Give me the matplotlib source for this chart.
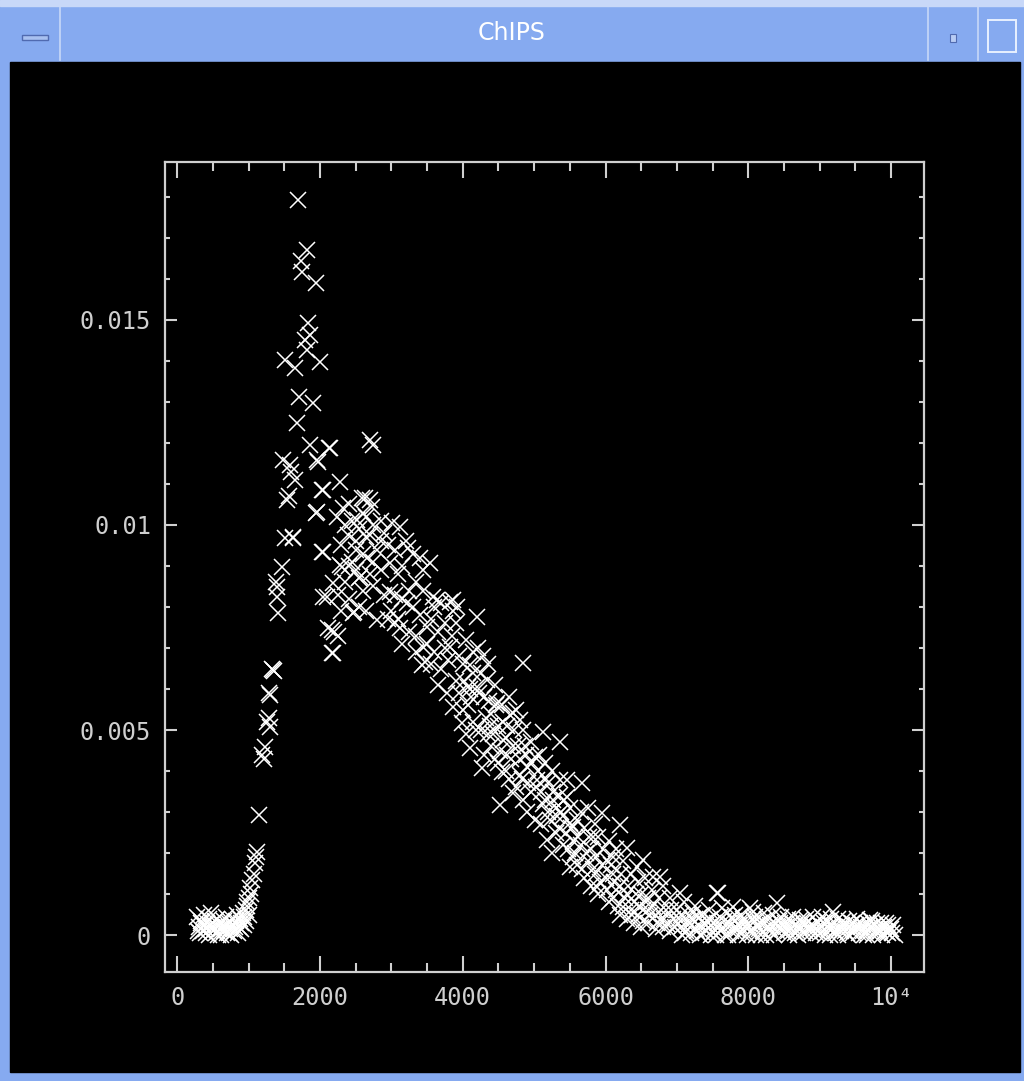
import numpy as np
import matplotlib
matplotlib.use("Agg")
import matplotlib.pyplot as plt
from matplotlib.patches import Rectangle

# ---------------- data (energy, flux in units of 1e-3) ----------------
low_x = [280, 300, 320, 340, 360, 380, 400, 420, 440, 460, 480, 500, 520, 540, 560, 580, 600, 620,
         640, 660, 680, 700, 720, 740, 760, 780, 800, 820, 840, 860, 880, 900, 920, 940, 960, 980, 1000,
         290, 330, 370, 410, 450, 490, 530, 570, 610, 650, 690, 730, 770, 810, 850, 890, 930, 970]
low_y = [0.45, 0.2, 0.05, 0.35, 0.1, 0.5, 0.15, 0.3, 0.0, 0.25, 0.55, 0.1, 0.2, 0.05, 0.4, 0.15, 0.3, 0.0,
         0.2, 0.1, 0.45, 0.05, 0.3, 0.15, 0.0, 0.25, 0.1, 0.35, 0.5, 0.2, 0.4, 0.3, 0.55, 0.45, 0.6, 0.7, 0.5,
         0.1, 0.3, 0.25, 0.05, 0.4, 0.2, 0.35, 0.0, 0.15, 0.35, 0.2, 0.05, 0.4, 0.2, 0.05, 0.15, 0.25, 0.35]

rise_x = [1022, 980, 1050, 1092, 1120, 1105, 1148, 1190, 1232, 1210, 1260, 1302, 1280, 1302, 1290,
          1344, 1330, 1040, 1070, 1010, 1350]
rise_y = [1.15, 0.8, 1.34, 1.76, 2.03, 1.9, 2.93, 4.39, 4.59, 4.3, 5.2, 5.08, 5.3, 5.86, 5.9,
          6.47, 6.5, 1.0, 1.5, 0.9, 6.45]

peak_x = [1400, 1400, 1414, 1390, 1470, 1512, 1624, 1540, 1582, 1652, 1560, 1484, 1512, 1652, 1694,
          1820, 1736, 1750, 1946, 1834, 1862, 1792, 1820, 2002, 1708, 1904, 1680, 1862, 1960, 1974,
          2030, 1946, 2044, 1960, 1600, 1620]
peak_y = [8.49, 8.25, 7.86, 8.6, 8.98, 9.69, 9.69, 10.61, 11.47, 11.1, 10.7, 11.59, 14.03, 13.83, 17.93,
          16.71, 16.44, 16.18, 15.91, 14.93, 14.64, 14.52, 14.27, 13.98, 13.13, 12.98, 12.49, 11.96, 11.59, 11.54,
          10.86, 10.3, 10.86, 10.32, 11.3, 9.7]

hump_x = [2128, 2142, 2282, 2030, 2044, 2100, 2044, 2114, 2170, 2184, 2170, 2282, 2310, 2184, 2324,
          2394, 2464, 2470, 2520, 2562, 2590, 2632, 2660, 2702, 2702, 2730, 2744, 2800, 2800, 2982,
          2982, 2240, 2350, 2400, 2450, 2500, 2550, 2600, 2650, 2700, 2750, 2850, 2900, 2950, 2250,
          2300, 2350, 2400, 2450, 2500, 2550, 2600, 2650, 2700, 2750, 2850, 2900, 2950, 2600, 2500,
          2400, 2650, 2750, 2850, 2300, 2550, 2200, 2250]
hump_y = [11.88, 11.88, 11.05, 9.34, 9.34, 8.25, 8.25, 7.49, 7.44, 6.88, 6.88, 9.03, 8.98, 8.59, 10.42,
          9.76, 7.86, 7.88, 10.13, 8.73, 10.66, 10.66, 9.2, 9.76, 12.08, 10.44, 11.96, 9.39, 7.69, 9.08,
          8.37, 10.2, 10.0, 10.5, 10.1, 9.6, 9.9, 10.3, 10.2, 10.6, 10.0, 10.1, 9.8, 9.5, 8.3,
          7.9, 8.6, 8.2, 9.1, 8.9, 8.0, 8.4, 7.9, 8.8, 8.5, 8.9, 8.3, 7.7, 9.3, 9.4,
          9.0, 9.7, 9.1, 9.6, 9.5, 8.7, 7.4, 7.3]

mid_x = [3010, 3122, 3234, 3442, 3542, 3220, 3122, 3584, 3822, 3444, 3430, 3640, 3864, 3500, 3822,
         3472, 3864, 3050, 3100, 3150, 3200, 3300, 3350, 3400, 3450, 3050, 3100, 3150, 3250, 3300,
         3350, 3400, 3500, 3550, 3600, 3650, 3700, 3750, 3800, 3850, 3900, 3950, 3700, 3750, 3900,
         3950, 3600, 3350, 3250, 3000, 3050, 3150, 3550, 3650, 3780, 3990, 3860, 3920]
mid_y = [10.05, 9.96, 9.44, 8.91, 9.08, 8.1, 7.49, 8.25, 8.13, 7.03, 6.59, 8.17, 8.17, 7.51, 7.03,
         6.66, 5.56, 9.4, 8.8, 9.0, 9.6, 9.3, 8.6, 9.2, 8.4, 8.3, 7.7, 8.2, 7.4, 8.0,
         7.3, 7.8, 7.1, 7.7, 6.9, 7.4, 8.1, 7.6, 6.7, 7.3, 6.2, 6.8, 6.5, 7.0, 7.6,
         5.9, 8.0, 6.9, 8.4, 7.9, 7.6, 7.1, 6.6, 6.1, 5.9, 5.17, 7.9, 8.0]

fall_x = [4200, 4214, 4102, 4844, 4340, 4074, 4200, 4480, 4704, 4662, 4802, 4102, 4564, 4270, 4550,
          4704, 4522, 4000, 4050, 4100, 4150, 4250, 4300, 4350, 4400, 4450, 4500, 4550, 4600, 4650,
          4700, 4750, 4800, 4850, 4900, 4950, 4000, 4050, 4150, 4250, 4300, 4350, 4400, 4450, 4500,
          4600, 4650, 4750, 4800, 4850, 4900, 4950, 4120, 4380, 4620, 4880,
          4020, 4080, 4140, 4180, 4230, 4280, 4320, 4370, 4420, 4470, 4520, 4570, 4620, 4680, 4720,
          4780, 4830, 4870, 4920, 4970]
fall_y = [7.76, 7.0, 6.59, 6.64, 6.22, 6.05, 6.05, 5.66, 5.42, 5.37, 5.25, 4.56, 4.76, 4.07, 3.98,
          3.46, 3.17, 6.6, 7.2, 6.0, 6.9, 6.4, 5.8, 6.6, 5.4, 6.1, 5.1, 5.6, 4.8, 5.8,
          4.6, 5.5, 4.3, 5.0, 4.1, 4.7, 5.5, 4.9, 5.2, 5.0, 4.4, 4.9, 4.6, 4.3, 4.2,
          4.0, 3.8, 3.6, 3.9, 3.3, 3.0, 3.5, 5.8, 5.1, 4.4, 4.4,
          6.2, 5.6, 6.4, 5.0, 5.9, 6.8, 5.3, 5.7, 4.9, 5.6, 4.5, 5.2, 5.1, 4.3, 5.0,
          4.6, 3.8, 4.6, 3.7, 4.2]

knee_x = [5124, 5362, 5012, 5040, 5362, 5670, 5264, 5502, 5012, 5950, 5180, 5824, 5544, 6104, 5460,
          5460, 5544, 5502, 5880, 6020, 5050, 5100, 5150, 5200, 5250, 5300, 5350, 5400, 5450, 5500,
          5550, 5600, 5650, 5700, 5750, 5800, 5850, 5900, 5950, 5100, 5200, 5300, 5400, 5600, 5700,
          5800, 5900, 5250, 5650, 5750, 5150, 5850, 5350,
          5020, 5070, 5120, 5170, 5220, 5270, 5320, 5370, 5420, 5470, 5520, 5570, 5620, 5670, 5720,
          5770, 5820, 5870, 5920, 5970]
knee_y = [4.95, 4.71, 4.34, 3.78, 3.78, 3.71, 3.29, 2.73, 2.81, 2.98, 2.32, 2.39, 1.9, 1.9, 3.78,
          3.37, 2.64, 1.66, 1.17, 1.83, 4.0, 3.5, 4.2, 3.7, 4.0, 3.1, 3.4, 2.9, 2.5, 3.1,
          2.3, 2.8, 2.2, 2.6, 1.8, 2.1, 1.5, 2.4, 1.7, 2.7, 3.0, 2.5, 2.2, 1.7, 1.4,
          1.2, 1.0, 2.0, 3.0, 3.1, 3.3, 2.7, 2.6,
          3.6, 4.4, 3.2, 3.8, 2.8, 3.5, 2.9, 3.0, 3.3, 2.1, 2.6, 2.0, 2.4, 1.6, 2.0,
          2.4, 1.6, 1.9, 1.3, 2.1]

drop_x = [6202, 6300, 6524, 6440, 6664, 6762, 6244, 6524, 6762, 6050, 6100, 6150, 6200, 6250, 6300,
          6350, 6400, 6450, 6500, 6550, 6600, 6650, 6700, 6750, 6800, 6850, 6900, 6950, 6000, 6100,
          6200, 6300, 6400, 6500, 6600, 6700, 6800, 6900, 6050, 6350, 6600, 6150, 6450,
          6020, 6070, 6120, 6170, 6220, 6270, 6320, 6370, 6420, 6470, 6520, 6570, 6620, 6670, 6720,
          6770, 6820, 6870, 6920, 6970]
drop_y = [2.68, 2.12, 1.83, 1.66, 1.42, 1.42, 0.68, 0.61, 0.37, 2.3, 1.5, 2.1, 1.2, 1.8, 1.0,
          1.5, 0.8, 1.3, 1.0, 1.4, 0.6, 1.1, 0.5, 0.9, 1.2, 0.6, 0.9, 0.4, 1.4, 0.9,
          0.5, 0.4, 0.3, 0.2, 0.3, 0.15, 0.2, 0.1, 0.8, 0.6, 0.9, 1.1, 0.5,
          1.1, 1.7, 1.3, 0.7, 1.5, 0.9, 1.2, 0.5, 1.0, 0.7, 0.35, 0.8, 0.5, 0.7, 0.3,
          0.6, 0.4, 0.25, 0.6, 0.2]

tail_x = [7042, 7560, 7574, 7784, 8400, 8064, 8022, 7224, 8722, 9184, 9702, 9940,
          7000, 7050, 7100, 7150, 7200, 7250, 7300, 7350, 7400, 7450, 7500, 7550, 7600, 7650, 7700,
          7750, 7800, 7850, 7900, 7950, 8000, 8050, 8100, 8150, 8200, 8250, 8300, 8350, 8400, 8450,
          8500, 8550, 8600, 8650, 8700, 8750, 8800, 8850, 8900, 8950, 9000, 9050, 9100, 9150, 9200,
          9250, 9300, 9350, 9400, 9450, 9500, 9550, 9600, 9650, 9700, 9750, 9800, 9850, 9900, 9950,
          10000, 10050,
          7025, 7125, 7225, 7325, 7425, 7525, 7625, 7725, 7825, 7925, 8025, 8125, 8225, 8325, 8425,
          8525, 8625, 8725, 8825, 8925, 9025, 9125, 9225, 9325, 9425, 9525, 9625, 9725, 9825, 9925, 10025,
          7075, 7175, 7275, 7375, 7475, 7575, 7675, 7775, 7875, 7975, 8075, 8175, 8275, 8375, 8475,
          8575, 8675, 8775, 8875, 8975, 9075, 9175, 9275, 9375, 9475, 9575, 9675, 9775, 9875, 9975,
          7010, 7060, 7110, 7160, 7210, 7260, 7310, 7360, 7410, 7460, 7510, 7560, 7610, 7660, 7710,
          7760, 7810, 7860, 7910, 7960, 8010, 8060, 8110, 8160, 8210, 8260, 8310, 8360, 8410, 8460,
          8510, 8560, 8610, 8660, 8710, 8760, 8810, 8860, 8910, 8960, 9010, 9060, 9110, 9160, 9210,
          9260, 9310, 9360, 9410, 9460, 9510, 9560, 9610, 9660, 9710, 9760, 9810, 9860, 9910, 9960, 10010]
tail_y = [1.02, 1.02, 1.02, 0.68, 0.78, 0.56, 0.66, 0.37, 0.37, 0.56, 0.37, 0.07,
          0.6, 0.2, 0.8, 0.35, 0.05, 0.7, 0.25, 0.5, 0.1, 0.6, 0.3, 0.0, 0.45, 0.2, 0.55,
          0.1, 0.35, 0.0, 0.5, 0.2, 0.3, 0.05, 0.45, 0.15, 0.35, 0.0, 0.25, 0.5, 0.1, 0.3,
          0.05, 0.4, 0.15, 0.25, 0.0, 0.35, 0.1, 0.2, 0.45, 0.05, 0.25, 0.1, 0.35, 0.0, 0.2,
          0.4, 0.1, 0.25, 0.0, 0.3, 0.15, 0.05, 0.25, 0.1, 0.2, 0.0, 0.3, 0.1, 0.2, 0.05,
          0.15, 0.0,
          0.4, 0.1, 0.55, 0.0, 0.35, 0.15, 0.65, 0.3, 0.15, 0.4, 0.1, 0.25, 0.55, 0.05, 0.35,
          0.2, 0.45, 0.15, 0.3, 0.2, 0.45, 0.15, 0.05, 0.35, 0.2, 0.4, 0.0, 0.35, 0.15, 0.3, 0.25,
          0.0, 0.5, 0.1, 0.3, 0.0, 0.2, 0.0, 0.45, 0.25, 0.0, 0.35, 0.0, 0.2, 0.3, 0.15,
          0.0, 0.1, 0.25, 0.05, 0.3, 0.0, 0.25, 0.15, 0.05, 0.1, 0.2, 0.3, 0.1, 0.0, 0.15,
          0.3, 0.5, 0.05, 0.25, 0.4, 0.15, 0.45, 0.05, 0.25, 0.4, 0.05, 0.3, 0.1, 0.35, 0.0,
          0.25, 0.5, 0.15, 0.05, 0.3, 0.2, 0.4, 0.0, 0.3, 0.1, 0.4, 0.15, 0.0, 0.2, 0.45,
          0.3, 0.1, 0.3, 0.05, 0.2, 0.05, 0.4, 0.15, 0.25, 0.1, 0.05, 0.3, 0.2, 0.4, 0.1,
          0.0, 0.25, 0.1, 0.35, 0.05, 0.25, 0.3, 0.1, 0.0, 0.15, 0.25, 0.05, 0.3, 0.1, 0.25, 0.05]

x_ticks = [0, 2000, 4000, 6000, 8000, 10000]
x_tick_labels = ["0", "2000", "4000", "6000", "8000", "10\u2074"]
y_ticks = [0, 0.005, 0.01, 0.015]
y_tick_labels = ["0", "0.005", "0.01", "0.015"]

energy = np.array(low_x + rise_x + peak_x + hump_x + mid_x + fall_x + knee_x + drop_x + tail_x, float)
flux = np.array(low_y + rise_y + peak_y + hump_y + mid_y + fall_y + knee_y + drop_y + tail_y) * 1e-3

# ---------------- figure ----------------
W, H = 1024, 1081
fig = plt.figure(figsize=(W / 100, H / 100), dpi=100)
fig.patch.set_facecolor("#86aaf0")

# window chrome in a pixel-coordinate background axes
bg = fig.add_axes([0, 0, 1, 1], zorder=-5)
bg.set_xlim(0, W)
bg.set_ylim(H, 0)
bg.axis("off")
bg.add_patch(Rectangle((0, 0), W, 6, color="#c8d8f8"))
bg.add_patch(Rectangle((10, 62), 1010, 1010, color="black"))
bg.plot([60, 60], [6, 60], color="#c8d8f8", lw=1.2)
bg.plot([928, 928], [6, 60], color="#c8d8f8", lw=1.2)
bg.plot([978, 978], [6, 60], color="#c8d8f8", lw=1.2)
bg.add_patch(Rectangle((22, 35), 26, 5, facecolor="#a8c0f0", edgecolor="#506ab0", lw=1))
bg.add_patch(Rectangle((950, 34), 6, 8, facecolor="#b8ccf4", edgecolor="#506ab0", lw=0.8))
bg.add_patch(Rectangle((988, 20), 28, 32, facecolor="none", edgecolor="#e8f0ff", lw=1.4))
bg.text(512, 33, "ChIPS", color="white", fontsize=17, ha="center", va="center",
        family="DejaVu Sans")

ax = fig.add_axes([165 / W, 1 - 972 / H, (924 - 165) / W, (972 - 162) / H])
ax.set_facecolor("black")
ax.plot(energy, flux, linestyle="none", marker="x", markersize=11.5,
        markeredgewidth=1.1, color="white")

ax.set_xlim(-170, 10460)
ax.set_ylim(-0.0009, 0.01885)

frame_col = "#d0d0d0"
for sp in ax.spines.values():
    sp.set_color(frame_col)
    sp.set_linewidth(1.6)

ax.set_xticks(x_ticks)
ax.set_xticklabels(x_tick_labels)
ax.set_xticks(np.arange(500, 10500, 500)[np.arange(500, 10500, 500) % 2000 != 0], minor=True)
ax.set_yticks(y_ticks)
ax.set_yticklabels(y_tick_labels)
ax.set_yticks([v * 0.001 for v in range(0, 19) if v % 5 != 0], minor=True)

ax.tick_params(axis="x", which="major", direction="in", length=11.5, width=1.5,
               color=frame_col, top=True, bottom=True, pad=10,
               labelsize=17, labelcolor="#cfcfcf")
ax.tick_params(axis="x", which="minor", direction="in", length=6.5, width=1.5,
               color=frame_col, top=True, bottom=True)
ax.tick_params(axis="y", which="major", direction="in", length=8.5, width=1.5,
               color=frame_col, left=True, right=True, pad=10,
               labelsize=17, labelcolor="#cfcfcf")
ax.tick_params(axis="y", which="minor", direction="in", length=3.5, width=1.5,
               color=frame_col, left=True, right=True)
for lab in ax.get_xticklabels() + ax.get_yticklabels():
    lab.set_family("DejaVu Sans Mono")

fig.savefig("out.png", dpi=100, facecolor=fig.get_facecolor())
